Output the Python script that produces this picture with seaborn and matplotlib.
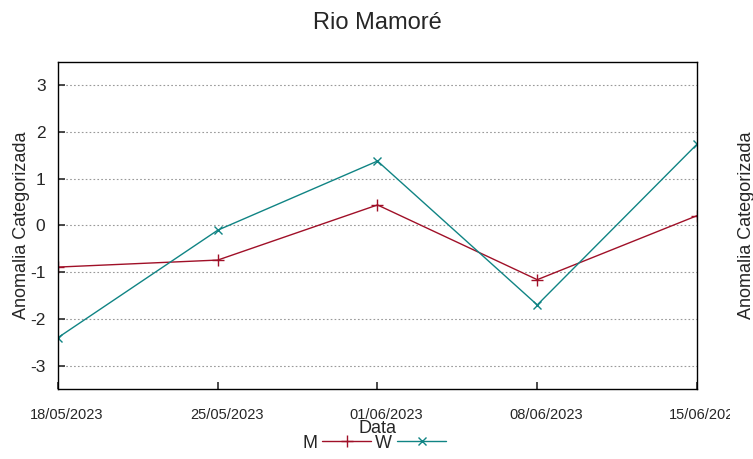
import pandas as pd
import numpy as np
import matplotlib.pyplot as plt
import matplotlib.transforms as mtransforms
from matplotlib.lines import Line2D
import seaborn as sns

# Valores
datas = ['2023-05-18', '2023-05-25', '2023-06-01', '2023-06-08', '2023-06-15']
serie_m = [-0.89, -0.74, 0.44, -1.16, 0.21]
serie_w = [-2.40, -0.10, 1.38, -1.70, 1.74]
rotulos_x = ['18/05/2023', '25/05/2023', '01/06/2023', '08/06/2023', '15/06/2023']
ticks_y = [-3, -2, -1, 0, 1, 2, 3]

df_m = pd.DataFrame({'Data': pd.to_datetime(datas), 'valor': serie_m})
df_w = pd.DataFrame({'Data': pd.to_datetime(datas), 'valor': serie_w})

sns.set_theme(style='white')
plt.rcParams['font.family'] = ['Liberation Sans', 'DejaVu Sans']

fig = plt.figure(figsize=(7.53, 4.59), dpi=100)
ax = fig.add_axes([58 / 753, 1 - 389 / 459, (697 - 58) / 753, (389 - 62) / 459])

cores = {'M': '#a01028', 'W': '#108484'}
sns.lineplot(data=df_m, x='Data', y='valor', color=cores['M'], marker='+',
             markersize=8, markeredgewidth=1.0, markeredgecolor=cores['M'],
             linewidth=1.0, ax=ax)
sns.lineplot(data=df_w, x='Data', y='valor', color=cores['W'], marker='x',
             markersize=6, markeredgewidth=1.0, markeredgecolor=cores['W'],
             linewidth=1.0, ax=ax)

ax.set_ylim(-3.5, 3.5)
ax.set_yticks(ticks_y)
ax.set_yticklabels([str(t) for t in ticks_y], fontsize=12.5)
ax.set_xlim(pd.to_datetime(datas[0]), pd.to_datetime(datas[-1]))
ax.set_xticks(pd.to_datetime(datas))
ax.set_xticklabels(rotulos_x, fontsize=10.5)
ax.tick_params(axis='x', direction='in', length=5, pad=14, color='#333333', bottom=True)
ax.tick_params(axis='y', direction='in', length=5, pad=9, color='#333333', left=True)
ax.yaxis.grid(True, linestyle=(0, (1.5, 2)), color='#999999', linewidth=0.8)
for s in ax.spines.values():
    s.set_color('black')
    s.set_linewidth(1.0)

# rotulos do eixo x ficam um pouco a direita do tick, o ultimo cortado
desloca = mtransforms.ScaledTranslation(9 / 100, 0, fig.dpi_scale_trans)
for lab in ax.get_xticklabels():
    lab.set_transform(lab.get_transform() + desloca)
ultimo = ax.get_xticklabels()[-1]
ultimo.set_clip_on(True)
ultimo.set_clip_box(mtransforms.TransformedBbox(
    mtransforms.Bbox.from_extents(0, 0, 730 / 753, 1), fig.transFigure))

ax.set_xlabel('Data', fontsize=13, labelpad=-2)
ax.set_ylabel('Anomalia Categorizada', fontsize=13)
ax.yaxis.set_label_coords((30 - 58) / 639, 0.5)
ax.set_title('Rio Mamoré', fontsize=17, pad=24)

# rotulo do eixo secundario (cortado na borda)
fig.text(738 / 753, 1 - 225 / 459, 'Anomalia Categorizada', rotation=90,
         fontsize=13, ha='left', va='center')

# legenda embaixo
handles = [Line2D([], [], color=cores['M'], marker='+', linewidth=1.0, markersize=8),
           Line2D([], [], color=cores['W'], marker='x', linewidth=1.0, markersize=6)]
fig.legend(handles, ['M', 'W'], loc='center', bbox_to_anchor=(374 / 753, 1 - 443 / 459),
           ncol=2, frameon=False, markerfirst=False, fontsize=13,
           handlelength=2.7, columnspacing=0.2, handletextpad=0.3)

fig.savefig('out.png', dpi=100)
